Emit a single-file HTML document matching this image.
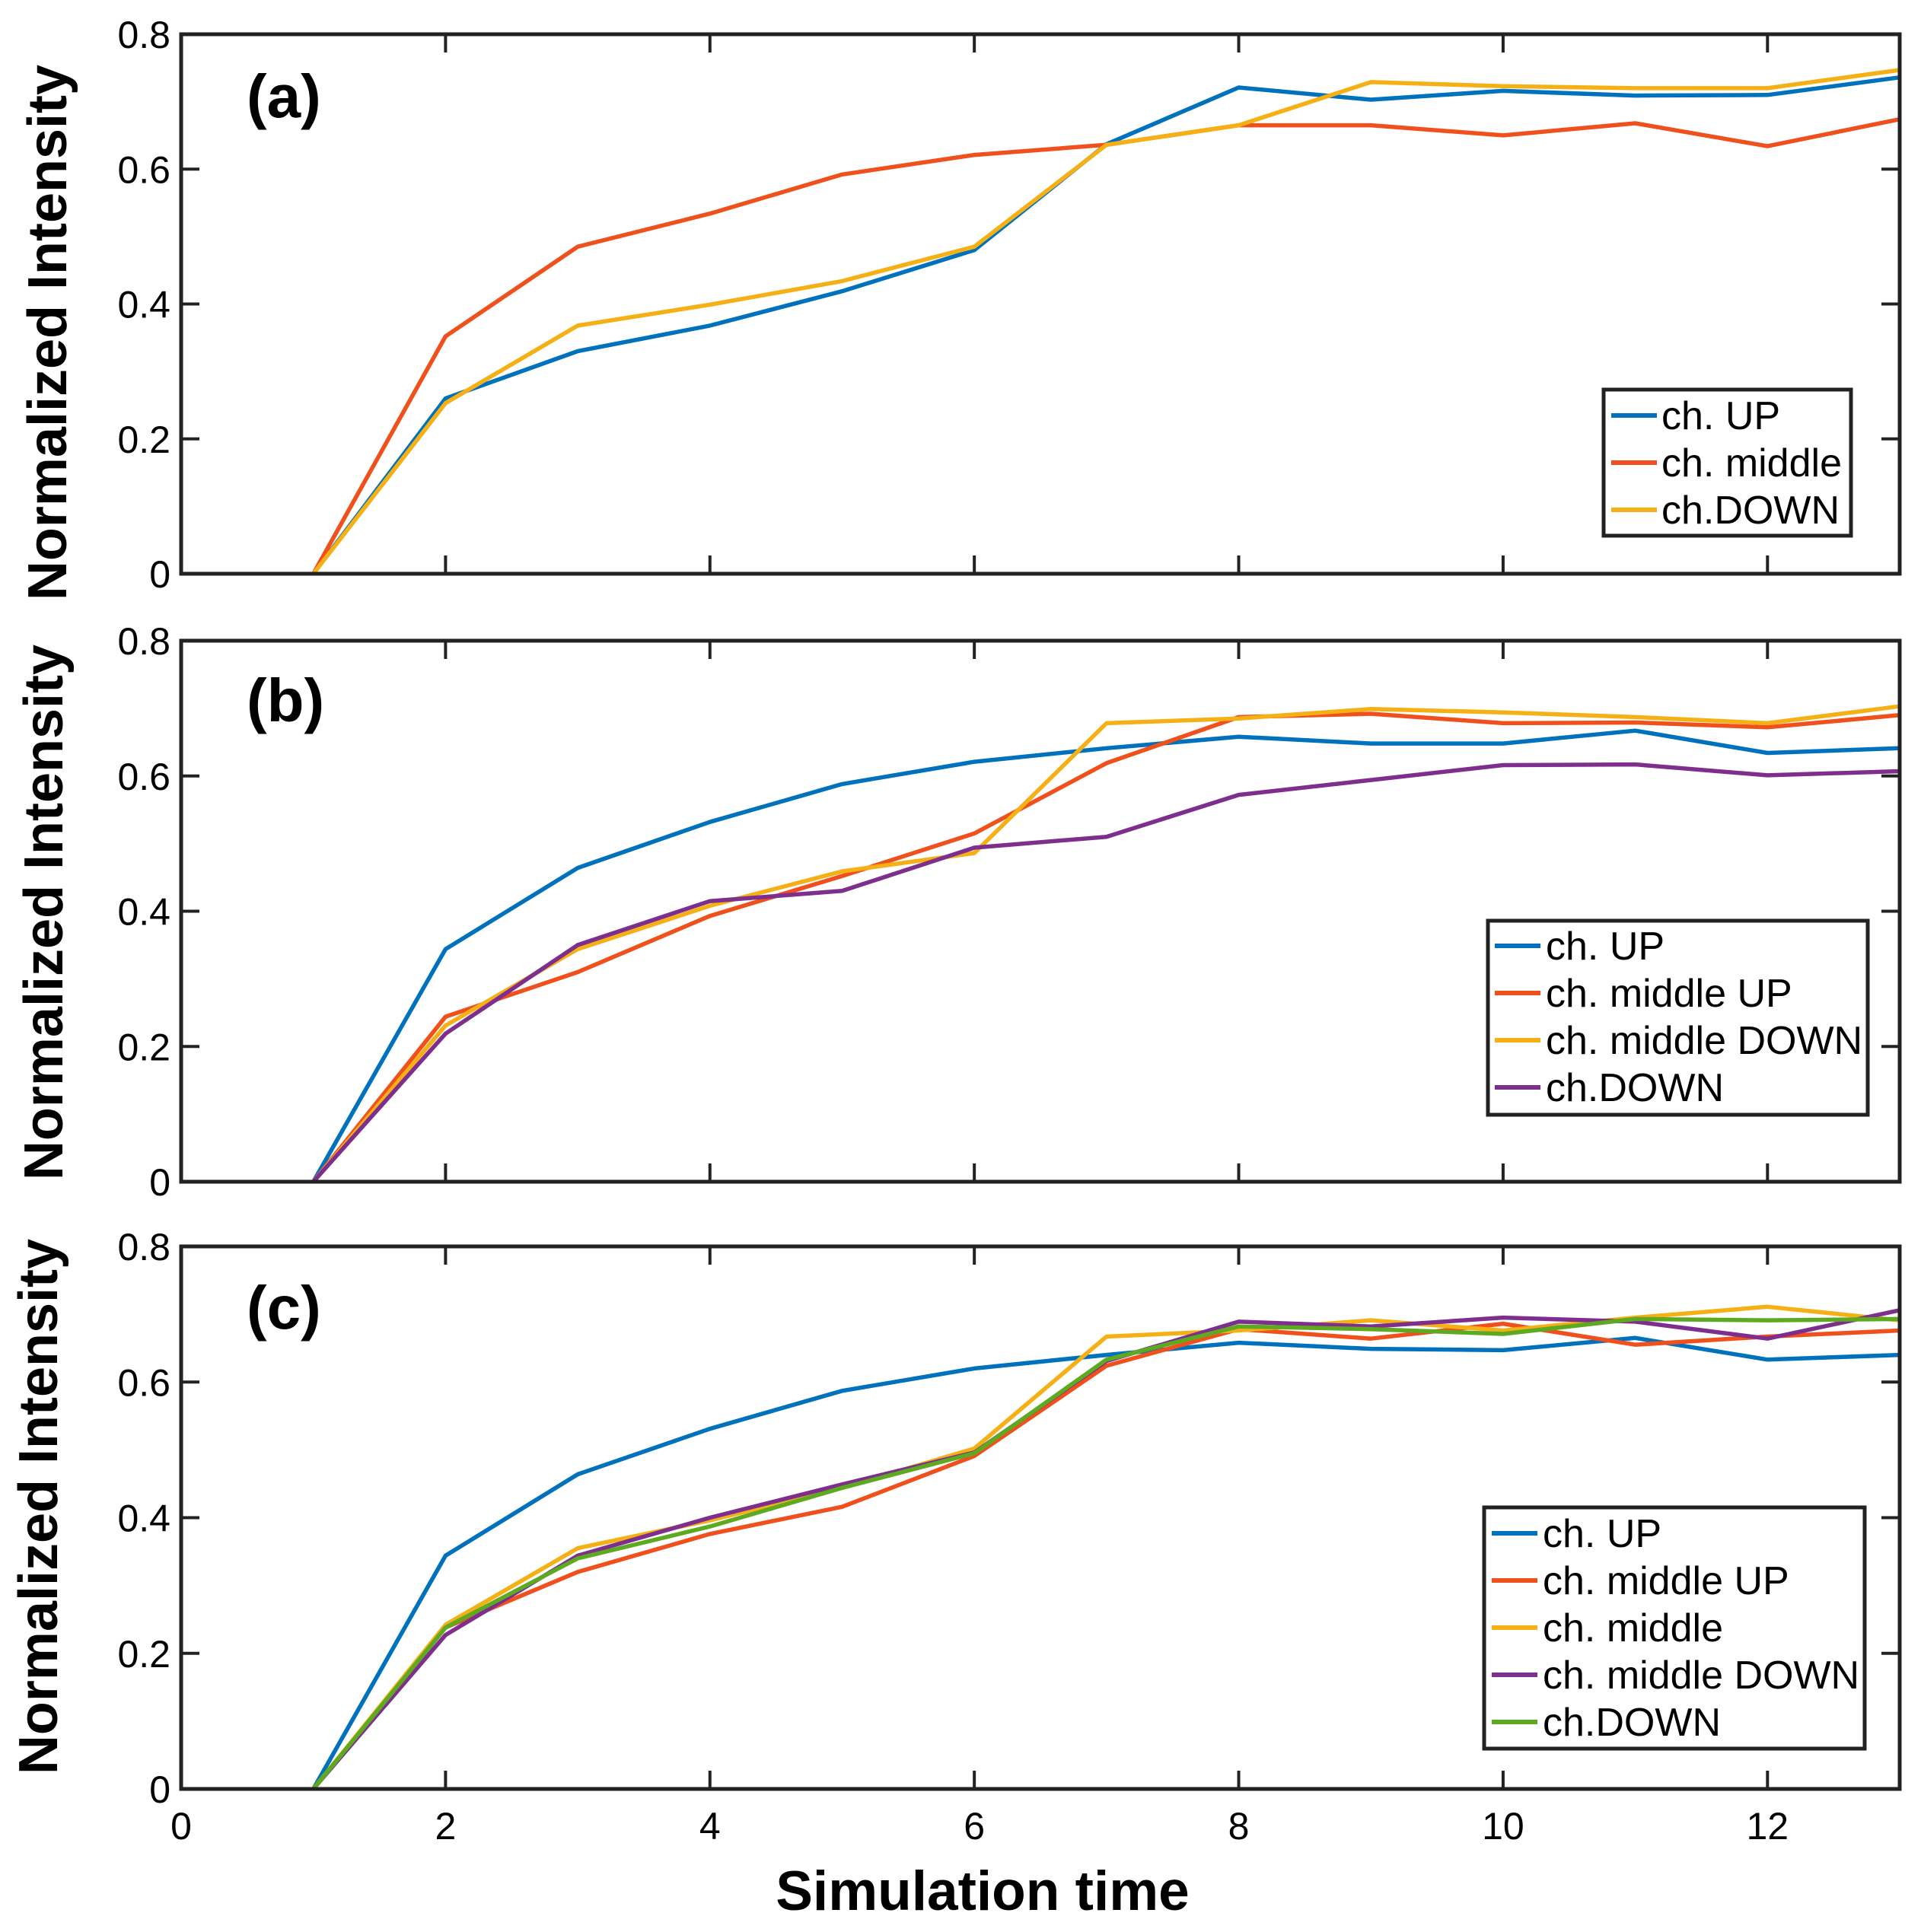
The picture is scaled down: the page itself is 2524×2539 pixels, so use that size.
<!DOCTYPE html>
<html><head><meta charset="utf-8"><style>
html,body{margin:0;padding:0;background:#fff;}
svg{display:block;}
text{font-family:"Liberation Sans",Arial,sans-serif;fill:#000;}
</style></head><body>
<svg id="fig" width="2524" height="2539" viewBox="0 0 2524 2539" xmlns="http://www.w3.org/2000/svg"></svg>
<script>
const xTicks = [0,2,4,6,8,10,12];
const yTicks = [0,0.2,0.4,0.6,0.8];
const yTickLabels = ["0","0.2","0.4","0.6","0.8"];
const times = [1,2,3,4,5,6,7,8,9,10,11,12,13];

const aUp     = [0,0.26,0.33,0.368,0.419,0.48,0.637,0.721,0.703,0.716,0.709,0.71,0.736];
const aMiddle = [0,0.352,0.485,0.534,0.592,0.621,0.636,0.665,0.665,0.65,0.668,0.634,0.674];
const aDown   = [0,0.253,0.368,0.399,0.434,0.485,0.636,0.665,0.729,0.723,0.72,0.72,0.747];

const bUp       = [0,0.344,0.464,0.532,0.588,0.621,0.641,0.658,0.648,0.648,0.667,0.634,0.641];
const bMidUp    = [0,0.244,0.31,0.393,0.452,0.515,0.619,0.687,0.692,0.678,0.679,0.672,0.69];
const bMidDown  = [0,0.231,0.344,0.408,0.459,0.486,0.678,0.685,0.699,0.694,0.687,0.678,0.703];
const bDown     = [0,0.219,0.35,0.415,0.43,0.494,0.51,0.572,0.594,0.616,0.617,0.601,0.607];

const cUp      = [0,0.344,0.464,0.531,0.587,0.62,0.64,0.658,0.649,0.647,0.665,0.633,0.64];
const cMidUp   = [0,0.238,0.32,0.376,0.416,0.491,0.624,0.678,0.664,0.686,0.655,0.667,0.676];
const cMiddle  = [0,0.242,0.355,0.396,0.444,0.502,0.667,0.676,0.691,0.676,0.695,0.711,0.691];
const cMidDown = [0,0.227,0.344,0.4,0.449,0.496,0.631,0.689,0.682,0.695,0.689,0.664,0.706];
const cDown    = [0,0.238,0.34,0.387,0.444,0.495,0.633,0.682,0.678,0.671,0.693,0.691,0.693];

const C = {blue:"#0072BD",orange:"#F0501C",yellow:"#F5B015",purple:"#7E2F8E",green:"#5DAA20"};
const NS="http://www.w3.org/2000/svg";
const svg=document.getElementById('fig');
function mk(tag,attrs,parent){const e=document.createElementNS(NS,tag);for(const k in attrs)e.setAttribute(k,attrs[k]);(parent||svg).appendChild(e);return e;}

const X0=238,X1=2496,XMAX=13;
function xs(v){return X0+(X1-X0)*v/XMAX;}

const panels=[
 {top:45,bot:754,label:"(a)",lab:[324,154],yt:[62,437],
  series:[["ch. UP",aUp,C.blue],["ch. middle",aMiddle,C.orange],["ch.DOWN",aDown,C.yellow]],
  leg:{x:2107,y:512,w:325,h:192,r0:546,sx:2117,tx:2183}},
 {top:842,bot:1553,label:"(b)",lab:[324,948],yt:[57,1199],
  series:[["ch. UP",bUp,C.blue],["ch. middle UP",bMidUp,C.orange],["ch. middle DOWN",bMidDown,C.yellow],["ch.DOWN",bDown,C.purple]],
  leg:{x:1955,y:1210,w:499,h:255,r0:1243,sx:1964,tx:2031}},
 {top:1638,bot:2351,label:"(c)",lab:[324,1746],yt:[50,1980],
  series:[["ch. UP",cUp,C.blue],["ch. middle UP",cMidUp,C.orange],["ch. middle",cMiddle,C.yellow],["ch. middle DOWN",cMidDown,C.purple],["ch.DOWN",cDown,C.green]],
  leg:{x:1950,y:1981,w:500,h:317,r0:2015,sx:1960,tx:2027}}
];

panels.forEach((p,pi)=>{
  const g=mk('g',{});
  
  
  const ys=v=>p.bot-(p.bot-p.top)*v/0.8;
  p.series.forEach((s,si)=>{
    const pts=times.map((t,i)=>xs(t).toFixed(1)+','+ys(s[1][i]).toFixed(1)).join(' ');
    const pl=mk('polyline',{points:pts,fill:'none',stroke:s[2],'stroke-width':5.5,'stroke-linejoin':'round'},g);
    
    
  });
  const box=mk('rect',{x:X0,y:p.top,width:X1-X0,height:p.bot-p.top,fill:'none',stroke:'#222','stroke-width':5},g);
  
  
  xTicks.forEach(t=>{
    if(t===0)return;
    const x=xs(t);
    mk('line',{x1:x,y1:p.bot,x2:x,y2:p.bot-24,stroke:'#222','stroke-width':4},g);
    mk('line',{x1:x,y1:p.top,x2:x,y2:p.top+24,stroke:'#222','stroke-width':4},g);
    if(pi===2){
      const tl=mk('text',{x:x,y:2417,'font-size':50,'text-anchor':'middle'},g);
      tl.textContent=String(t);
      
      
    }
  });
  if(pi===2){
    const tl=mk('text',{x:X0,y:2417,'font-size':50,'text-anchor':'middle'},g);
    tl.textContent='0';
    
    
  }
  yTicks.forEach((v,i)=>{
    const y=ys(v);
    if(i>0&&i<yTicks.length-1){
      mk('line',{x1:X0,y1:y,x2:X0+24,y2:y,stroke:'#222','stroke-width':4},g);
      mk('line',{x1:X1,y1:y,x2:X1-24,y2:y,stroke:'#222','stroke-width':4},g);
    }
    const tl=mk('text',{x:224,y:y+18,'font-size':50,'text-anchor':'end'},g);
    tl.textContent=yTickLabels[i];
    
    
  });
  const yt=mk('text',{x:p.yt[0],y:p.yt[1],'font-size':72,'font-weight':'bold','text-anchor':'middle',transform:`rotate(-90 ${p.yt[0]} ${p.yt[1]})`,dy:25},g);
  yt.textContent='Normalized Intensity';
  
  
  const lb=mk('text',{x:p.lab[0],y:p.lab[1],'font-size':80,'font-weight':'bold'},g);
  lb.textContent=p.label;
  
  
  const L=p.leg;
  const lg=mk('g',{},g);
  
  
  mk('rect',{x:L.x,y:L.y,width:L.w,height:L.h,fill:'#fff',stroke:'#222','stroke-width':5},lg);
  p.series.forEach((s,si)=>{
    const y=L.r0+si*62;
    const e=mk('g',{},lg);
    
    
    mk('line',{x1:L.sx,y1:y,x2:L.sx+60,y2:y,stroke:s[2],'stroke-width':6},e);
    const t=mk('text',{x:L.tx,y:y+18,'font-size':52},e);
    t.textContent=s[0];
  });
});
const xt=mk('text',{x:1291,y:2510,'font-size':73,'font-weight':'bold','text-anchor':'middle'});
xt.textContent='Simulation time';


</script>
</body></html>
